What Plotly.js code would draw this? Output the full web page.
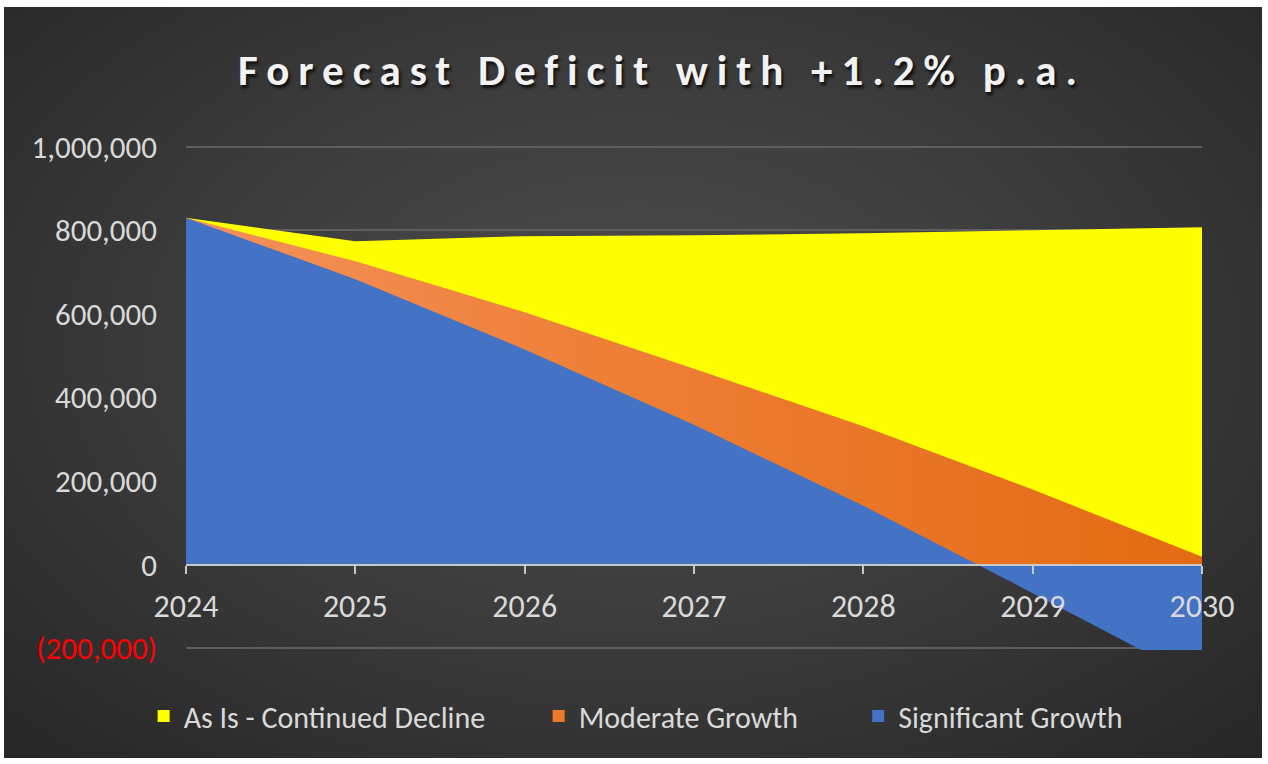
<!DOCTYPE html>
<html>
<head>
<meta charset="utf-8">
<script src="https://cdn.plot.ly/plotly-3.0.1.min.js"></script>
<style>
  html, body { margin: 0; padding: 0; background: #ffffff; width: 1268px; height: 764px; overflow: hidden; }
  #chart {
    position: absolute; left: 4px; top: 7px; width: 1258px; height: 751px;
    background: radial-gradient(ellipse 70% 75% at 50% 45%, #4e4e4e 0%, #3c3c3c 50%, #272727 100%);
  }
  #chart .gtitle { letter-spacing: 9px; }
</style>
</head>
<body>
<div id="chart"></div>
<script>
const years = ['2024', '2025', '2026', '2027', '2028', '2029', '2030'];
const asIs = [830000, 774000, 786000, 788000, 793000, 800000, 807000];
const moderate = [830000, 726000, 604000, 469000, 331000, 180000, 19000];
const significant = [830000, 683000, 515000, 335000, 141000, -68000, -280000];
const seriesNames = ['As Is - Continued Decline', 'Moderate Growth', 'Significant Growth'];
const seriesColors = ['#FFFF00', '#EC7A2A', '#4472C4'];
const yTickVals = [-200000, 0, 200000, 400000, 600000, 800000, 1000000];
const yTickText = ['<span style="color:#ff0000">(200,000)</span>', '0', '200,000', '400,000', '600,000', '800,000', '1,000,000'];

const fontFam = 'Calibri, Carlito, Lato, "Noto Sans", sans-serif';
const xNum = years.map(Number);
const yMin = -204000, yMax = 1004000;

const orangeGrad = { type: 'horizontal', colorscale: [[0, '#F4915A'], [0.4, '#EE8038'], [1, '#E46A12']] };

const traces = [
  { x: xNum, y: asIs, name: seriesNames[0], type: 'scatter', mode: 'none',
    fill: 'tozeroy', fillcolor: seriesColors[0], showlegend: false, hoverinfo: 'skip' },
  { x: xNum, y: moderate, name: seriesNames[1], type: 'scatter', mode: 'none',
    fill: 'tozeroy', fillcolor: seriesColors[1], fillgradient: orangeGrad,
    showlegend: false, hoverinfo: 'skip' },
  { x: xNum, y: significant, name: seriesNames[2], type: 'scatter', mode: 'none',
    fill: 'tozeroy', fillcolor: seriesColors[2], showlegend: false, hoverinfo: 'skip' },
  // legend keys (no data points)
  { x: [null], y: [null], name: seriesNames[0], type: 'bar', legend: 'legend',
    marker: { color: seriesColors[0], line: { width: 0 } } },
  { x: [null], y: [null], name: seriesNames[1], type: 'bar', legend: 'legend2',
    marker: { color: seriesColors[1], line: { width: 0 } } },
  { x: [null], y: [null], name: seriesNames[2], type: 'bar', legend: 'legend3',
    marker: { color: seriesColors[2], line: { width: 0 } } }
];

const legendFont = { family: fontFam, size: 30, color: '#d9d9d9' };
function legendAt(x) {
  return {
    orientation: 'h', x: x, xref: 'container', xanchor: 'left',
    y: 0.056, yref: 'container', yanchor: 'middle',
    font: legendFont, bgcolor: 'rgba(0,0,0,0)', itemwidth: 30
  };
}

const layout = {
  width: 1258, height: 751,
  paper_bgcolor: 'rgba(0,0,0,0)',
  plot_bgcolor: 'rgba(0,0,0,0)',
  margin: { l: 182, r: 60, t: 138, b: 108 },
  font: { family: fontFam, color: '#d9d9d9', size: 28 },
  title: {
    text: '<b>Forecast Deficit with +1.2% p.a.</b>',
    font: { family: fontFam, size: 43, color: '#f2f2f2', shadow: '2px 3px 3px rgba(0,0,0,0.75)' },
    x: 0.523, xref: 'container', xanchor: 'center',
    y: 0.916, yref: 'container', yanchor: 'middle'
  },
  xaxis: {
    type: 'linear',
    range: [2024, 2030],
    tickvals: xNum,
    ticktext: years,
    anchor: 'free',
    position: (0 - yMin) / (yMax - yMin),
    showgrid: false,
    zeroline: false,
    showline: true,
    linecolor: '#c8c8c8',
    linewidth: 2,
    ticks: 'outside',
    ticklen: 8,
    tickwidth: 2,
    tickcolor: '#c8c8c8',
    ticklabelstandoff: 5,
    tickfont: { family: fontFam, size: 32, color: '#d9d9d9' },
    fixedrange: true
  },
  yaxis: {
    range: [yMin, yMax],
    tickvals: yTickVals,
    ticktext: yTickText,
    showgrid: true,
    gridcolor: '#5e5e5e',
    gridwidth: 2,
    zeroline: false,
    showline: false,
    ticks: '',
    ticklabelstandoff: 28,
    tickfont: { family: fontFam, size: 31, color: '#d9d9d9' },
    fixedrange: true
  },
  showlegend: true,
  legend: legendAt(0.111),
  legend2: legendAt(0.425),
  legend3: legendAt(0.679),
  hovermode: false
};

Plotly.newPlot('chart', traces, layout, { displayModeBar: false, staticPlot: true });
</script>
</body>
</html>
